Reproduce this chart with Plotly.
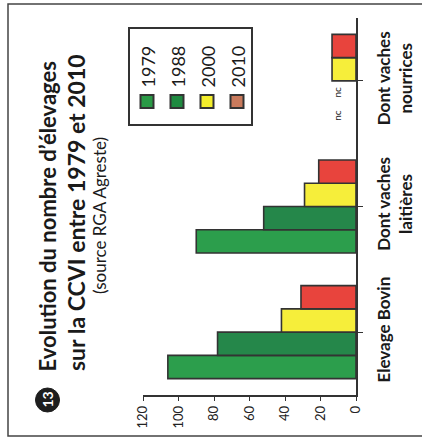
import plotly.graph_objects as go

categories = ["Elevage Bovin", "Dont vaches<br>laitières", "Dont vaches<br>nourrices"]
years = ["1979", "1988", "2000", "2010"]
v1979 = [106, 90, None]
v1988 = [78, 52, None]
v2000 = [42, 29, 13.5]
v2010 = [31, 21, 13.5]
series = [v1979, v1988, v2000, v2010]
missing_label = "nc"
value_ticks = [0, 20, 40, 60, 80, 100, 120]

bar_colors = ["#2c9e4c", "#25874a", "#f6ee3a", "#e8443d"]
legend_colors = ["#2a9a46", "#1f8a40", "#f4ee2c", "#c97a5c"]
edge = "#333333"

W, H = 422, 438
L, R, T, B = 143, 66, 18, 43
PW, PH = W - L - R, H - T - B


def px(x):
    return (x - L) / PW


def py(y):
    return (H - B - y) / PH


BARGAP = 0.26

fig = go.Figure()
for name, vals, col in zip(years, series, bar_colors):
    fig.add_trace(go.Bar(
        y=list(range(len(categories))), x=vals, name=name, orientation="h",
        marker=dict(color=col, line=dict(color=edge, width=1.6)),
        showlegend=False,
    ))

# "nc" labels for missing values
n = len(series)
bw = (1 - BARGAP) / n
for i, vals in enumerate(series):
    for j, v in enumerate(vals):
        if v is None:
            yc = j - (1 - BARGAP) / 2 + bw * (i + 0.5)
            fig.add_annotation(x=0, y=yc, xref="x", yref="y", text=missing_label,
                               textangle=-90, showarrow=False, xshift=-19,
                               xanchor="center", yanchor="middle",
                               font=dict(family="Lato", size=10, color="#222"))

fig.update_layout(
    width=W, height=H,
    margin=dict(l=L, r=R, t=T, b=B, pad=0, autoexpand=False),
    paper_bgcolor="white", plot_bgcolor="white",
    barmode="group", bargap=BARGAP, bargroupgap=0,
    font=dict(family="Lato", color="#1a1a1a"),
    xaxis=dict(range=[120, 0], tickvals=value_ticks, ticktext=[str(v) for v in value_ticks],
               tickangle=-90, showgrid=False, zeroline=False, automargin=False,
               showline=True, linecolor="#333", linewidth=1.5,
               ticks="outside", ticklen=4, tickwidth=1.2, tickcolor="#333",
               tickfont=dict(size=13, color="#222")),
    yaxis=dict(side="right", range=[-0.5, len(categories) - 0.5], automargin=False,
               tickmode="array", tickvals=list(range(len(categories))),
               ticktext=["<b>" + c.replace("<br>", "</b><br><b>") + "</b>" for c in categories],
               tickson="boundaries", tickangle=-90, showgrid=False, zeroline=False,
               showline=True, linecolor="#333", linewidth=1.5,
               ticks="outside", ticklen=5, tickwidth=1.2, tickcolor="#333",
               ticklabelstandoff=7,
               tickfont=dict(size=17, color="#1a1a1a")),
)

# outer frame
fig.add_shape(type="rect", xref="paper", yref="paper", x0=px(8), x1=px(440), y0=py(436), y1=py(4),
              line=dict(color="#444", width=1.5), layer="below")

# title block (rotated)
fig.add_shape(type="circle", xref="paper", yref="paper", x0=px(35.5), x1=px(59.5), y0=py(412), y1=py(388),
              fillcolor="#1e1e1e", line=dict(color="#1e1e1e", width=1))


def note(x, y, text, size, color="#1a1a1a"):
    fig.add_annotation(xref="paper", yref="paper", x=px(x), y=py(y), text=text, textangle=-90,
                       showarrow=False, xanchor="center", yanchor="middle",
                       font=dict(family="Lato", size=size, color=color))


note(47.5, 400, "<b>13</b>", 14, "white")
note(47, 216.5, "<b>Evolution du nombre d’élevages</b>", 22)
note(76, 213, "<b>sur la CCVI entre 1979 et 2010</b>", 23)
note(100, 216, "(source RGA Agreste)", 17)

# legend (rotated)
fig.add_shape(type="rect", xref="paper", yref="paper", x0=px(129), x1=px(252), y0=py(125), y1=py(28),
              line=dict(color="#333", width=2), fillcolor="white")
for k, (name, col) in enumerate(zip(years, legend_colors)):
    cx = 147 + 30 * k
    fig.add_shape(type="rect", xref="paper", yref="paper", x0=px(cx - 6.5), x1=px(cx + 6.5),
                  y0=py(108), y1=py(95), fillcolor=col, line=dict(color="#333", width=2))
    note(cx, 66.5, name, 18)

fig.write_html("out.html", config={"displayModeBar": False},
               post_script="document.body.style.margin='0';document.body.style.overflow='hidden';")
